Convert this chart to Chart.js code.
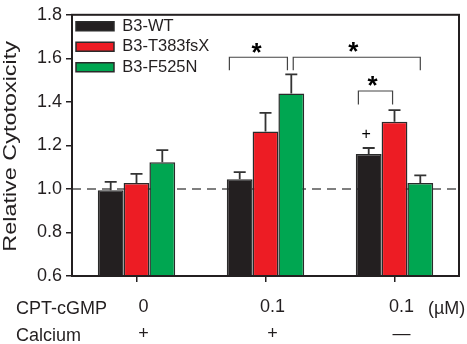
<!DOCTYPE html>
<html>
<head>
<meta charset="utf-8">
<script src="https://cdn.jsdelivr.net/npm/chart.js@4.4.1/dist/chart.umd.min.js"></script>
<style>
  html, body { margin: 0; padding: 0; background: #fff; }
  #wrap { width: 467px; height: 344px; position: relative; }
</style>
</head>
<body>
<div id="wrap"><canvas id="c"></canvas></div>
<script>
// data
var cptLabels = ['0', '0.1', '0.1'];
var calciumLabels = ['+', '+', '\u2014'];
var seriesNames = ['B3-WT', 'B3-T383fsX', 'B3-F525N'];
var wtValues = [0.994, 1.044, 1.160];
var wtErrors = [0.038, 0.033, 0.028];
var tValues = [1.027, 1.264, 1.309];
var tErrors = [0.042, 0.085, 0.053];
var fValues = [1.123, 1.438, 1.027];
var fErrors = [0.055, 0.088, 0.035];
var yTicks = [0.6, 0.8, 1.0, 1.2, 1.4, 1.6, 1.8];

// significance marks, x in category units, y in data units
var brackets = [
    { x1: 0.72, x2: 1.17, y: 1.605, leg: 1.545 },
    { x1: 1.215, x2: 2.20, y: 1.605, leg: 1.545 },
    { x1: 1.72, x2: 1.985, y: 1.45, leg: 1.388 }
];
var stars = [
    { x: 0.93, y: 1.645, t: '*' },
    { x: 1.68, y: 1.65, t: '*' },
    { x: 1.83, y: 1.49, t: '*' }
];
var plusMarks = [{ x: 1.78, y: 1.25 }];

var FONT = '"Liberation Sans", Arial, Helvetica, sans-serif';
var INK = '#231f20';

(function() {
    'use strict';

    var colors = ['#231f20', '#ed1c24', '#00a651'];
    var allValues = [wtValues, tValues, fValues];
    var allErrors = [wtErrors, tErrors, fErrors];

    function xAt(scale, v) {
        var p0 = scale.getPixelForValue(0);
        var p1 = scale.getPixelForValue(1);
        return p0 + v * (p1 - p0);
    }

    var extras = {
        id: 'extras',
        beforeDatasetsDraw: function(chart) {
            var ctx = chart.ctx, a = chart.chartArea;
            var y1 = chart.scales.y.getPixelForValue(1.0);
            ctx.save();
            ctx.strokeStyle = '#555';
            ctx.lineWidth = 1.5;
            ctx.setLineDash([9, 6]);
            ctx.beginPath();
            ctx.moveTo(a.left, y1);
            ctx.lineTo(a.right, y1);
            ctx.stroke();
            ctx.restore();
        },
        afterDatasetsDraw: function(chart) {
            var ctx = chart.ctx, a = chart.chartArea;
            var xs = chart.scales.x, ys = chart.scales.y;
            ctx.save();
            // error bars
            ctx.strokeStyle = '#333';
            ctx.lineWidth = 1.8;
            chart.data.datasets.forEach(function(ds, di) {
                var meta = chart.getDatasetMeta(di);
                meta.data.forEach(function(bar, i) {
                    var top = ys.getPixelForValue(allValues[di][i]);
                    var cap = ys.getPixelForValue(allValues[di][i] + allErrors[di][i]);
                    ctx.beginPath();
                    ctx.moveTo(bar.x, top);
                    ctx.lineTo(bar.x, cap);
                    ctx.moveTo(bar.x - 6, cap);
                    ctx.lineTo(bar.x + 6, cap);
                    ctx.stroke();
                });
            });
            // brackets
            ctx.strokeStyle = '#444';
            ctx.lineWidth = 1.2;
            brackets.forEach(function(b) {
                var xa = xAt(xs, b.x1), xb = xAt(xs, b.x2);
                var yt = ys.getPixelForValue(b.y), yl = ys.getPixelForValue(b.leg);
                ctx.beginPath();
                ctx.moveTo(xa, yl);
                ctx.lineTo(xa, yt);
                ctx.lineTo(xb, yt);
                ctx.lineTo(xb, yl);
                ctx.stroke();
            });
            ctx.fillStyle = '#000';
            ctx.textAlign = 'center';
            ctx.textBaseline = 'middle';
            ctx.font = 'bold 26px ' + FONT;
            stars.forEach(function(s) {
                ctx.fillText(s.t, xAt(xs, s.x), ys.getPixelForValue(s.y) + 5);
            });
            ctx.font = '16px ' + FONT;
            plusMarks.forEach(function(p) {
                ctx.fillText('+', xAt(xs, p.x), ys.getPixelForValue(p.y));
            });
            // frame
            ctx.strokeStyle = INK;
            ctx.lineWidth = 2;
            ctx.strokeRect(a.left, a.top, a.right - a.left, a.bottom - a.top);
            ctx.restore();
        },
        afterDraw: function(chart) {
            var ctx = chart.ctx, a = chart.chartArea;
            ctx.save();
            ctx.fillStyle = INK;
            // y title, stretched along its length like the original
            ctx.translate(16, (a.top + a.bottom) / 2 + 1);
            ctx.rotate(-Math.PI / 2);
            ctx.scale(1.3, 1);
            ctx.font = '18px ' + FONT;
            ctx.textAlign = 'center';
            ctx.textBaseline = 'alphabetic';
            ctx.fillText('Relative Cytotoxicity', 0, 0);
            ctx.restore();
            ctx.save();
            ctx.fillStyle = INK;
            ctx.font = '18px ' + FONT;
            ctx.textAlign = 'left';
            ctx.textBaseline = 'middle';
            ctx.fillText('CPT-cGMP', 16, 309);
            ctx.fillText('Calcium', 16, 336);
            ctx.fillText('(\u00b5M)', 428, 309);
            ctx.restore();
        }
    };

    var ctx = document.getElementById('c').getContext('2d');
    new Chart(ctx, {
        type: 'bar',
        data: {
            labels: cptLabels.map(function(c, i) { return [c, calciumLabels[i]]; }),
            datasets: seriesNames.map(function(name, i) {
                return {
                    label: name,
                    data: allValues[i],
                    backgroundColor: colors[i],
                    borderColor: '#2a2a2a',
                    borderWidth: 1.5,
                    categoryPercentage: 0.6,
                    barPercentage: 1.0
                };
            })
        },
        options: {
            responsive: true,
            maintainAspectRatio: false,
            animation: false,
            layout: { padding: { top: 10, right: 8, left: 0, bottom: 0 } },
            plugins: {
                tooltip: { enabled: false },
                legend: {
                    position: 'chartArea',
                    align: 'start',
                    title: { display: true, text: ' ', padding: 0, font: { size: 14, lineHeight: 1 } },
                    labels: {
                        boxWidth: 38,
                        boxHeight: 9,
                        padding: 4,
                        color: INK,
                        font: { family: FONT, size: 16.5, lineHeight: 1 }
                    }
                }
            },
            scales: {
                x: {
                    offset: true,
                    grid: { offset: false, drawOnChartArea: false, tickLength: 6, color: INK, lineWidth: 1.5 },
                    border: { color: INK, width: 2 },
                    ticks: {
                        color: INK,
                        padding: 12,
                        labelOffset: 7,
                        font: { family: FONT, size: 18, lineHeight: 1.5 }
                    },
                    afterFit: function(s) { s.height = 68; }
                },
                y: {
                    min: 0.6,
                    max: 1.8,
                    grid: { drawOnChartArea: false, tickLength: 6, color: INK, lineWidth: 1.5 },
                    border: { color: INK, width: 2 },
                    afterBuildTicks: function(s) { s.ticks = yTicks.map(function(v) { return { value: v }; }); },
                    ticks: {
                        color: INK,
                        padding: 4,
                        font: { family: FONT, size: 18 },
                        callback: function(v) { return Number(v).toFixed(1); }
                    },
                    afterFit: function(s) { s.width = 72; }
                }
            }
        },
        plugins: [extras]
    });
})();
</script>
</body>
</html>
